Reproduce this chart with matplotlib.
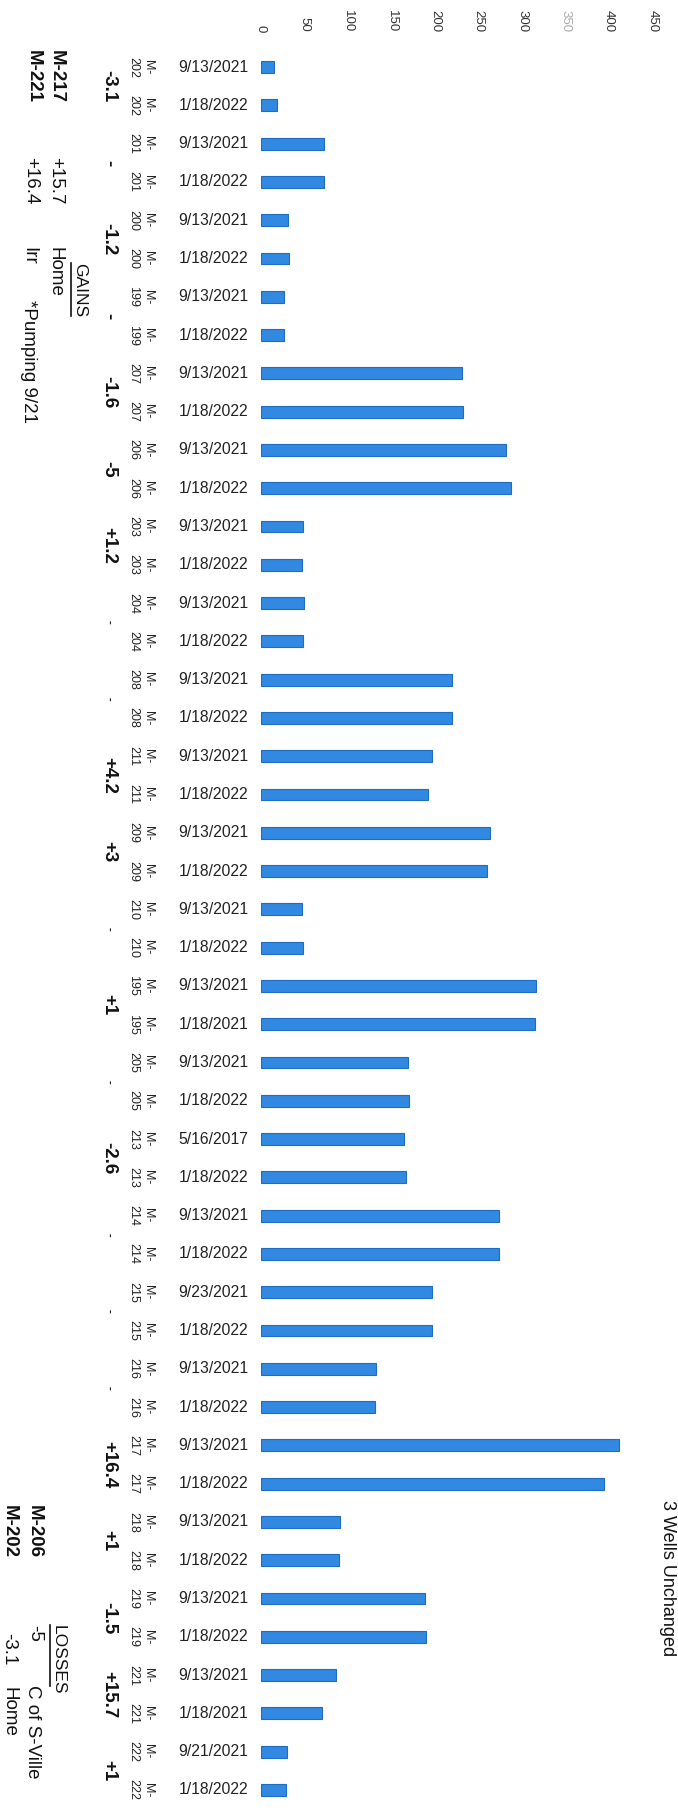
import matplotlib
matplotlib.use("Agg")
import matplotlib.pyplot as plt
from matplotlib.transforms import blended_transform_factory
from matplotlib.lines import Line2D

plt.rcParams['font.family'] = ['Liberation Sans', 'DejaVu Sans']

# ---------------- data ----------------
wells = ["202", "201", "200", "199", "207", "206", "203", "204", "208", "211",
         "209", "210", "195", "205", "213", "214", "215", "216", "217", "218",
         "219", "221", "222"]
first_dates = ["9/13/2021", "9/13/2021", "9/13/2021", "9/13/2021", "9/13/2021",
               "9/13/2021", "9/13/2021", "9/13/2021", "9/13/2021", "9/13/2021",
               "9/13/2021", "9/13/2021", "9/13/2021", "9/13/2021", "5/16/2017",
               "9/13/2021", "9/23/2021", "9/13/2021", "9/13/2021", "9/13/2021",
               "9/13/2021", "9/13/2021", "9/21/2021"]
second_dates = ["1/18/2022", "1/18/2022", "1/18/2022", "1/18/2022", "1/18/2022",
                "1/18/2022", "1/18/2022", "1/18/2022", "1/18/2022", "1/18/2022",
                "1/18/2022", "1/18/2022", "1/18/2021", "1/18/2022", "1/18/2022",
                "1/18/2022", "1/18/2022", "1/18/2022", "1/18/2022", "1/18/2022",
                "1/18/2022", "1/18/2021", "1/18/2022"]
first_values = [15.3, 72, 31, 27, 231, 282, 48, 49.5, 220, 196,
                263, 47.5, 316, 169, 164, 274, 196, 132, 411, 91,
                188, 86, 30]
second_values = [18.4, 72, 32, 27, 232.6, 287, 46.8, 48, 219, 191.8,
                 260, 48, 315, 170, 166.6, 274, 197, 131, 394.6, 90,
                 189.5, 70.3, 29]
changes = ["-3.1", "-", "-1.2", "-", "-1.6", "-5", "+1.2", "-", "-", "+4.2",
           "+3", "-", "+1", "-", "-2.6", "-", "-", "-", "+16.4", "+1",
           "-1.5", "+15.7", "+1"]
minor_change = [False, False, False, False, False, False, False, True, True, False,
                False, True, False, True, False, True, True, True, False, False,
                False, False, False]
ticks = [0, 50, 100, 150, 200, 250, 300, 350, 400, 450]

# interleave the two readings of each well
cat_wells, cat_dates, values = [], [], []
for w, d1, d2, v1, v2 in zip(wells, first_dates, second_dates, first_values, second_values):
    cat_wells += [w, w]
    cat_dates += [d1, d2]
    values += [v1, v2]
positions = list(range(len(values)))

# ---------------- figure ----------------
W, H = 678, 1818
fig = plt.figure(figsize=(W / 100, H / 100), dpi=100)
fig.patch.set_facecolor('white')

def fx(x):
    return x / W

def fy(y):
    return 1 - y / H

AX_LEFT = 261
AX_TOP = 47.9
AX_BOTTOM = 1809.1
AX_WIDTH = 391.5
ax = fig.add_axes([fx(AX_LEFT), fy(AX_BOTTOM), AX_WIDTH / W, (AX_BOTTOM - AX_TOP) / H])

ax.barh(positions, values, height=0.31, color='#3189e2', edgecolor='#1f6cc4', linewidth=0.8)
ax.set_xlim(0, 450)
ax.set_ylim(len(values) - 0.5, -0.5)
ax.set_xticks(ticks)
ax.set_xticklabels([str(t) for t in ticks])
ax.xaxis.tick_top()
ax.tick_params(axis='x', length=0, pad=11.5, labelrotation=-90, labelsize=9.5, labelcolor='#333333')
for lab in ax.get_xticklabels():
    if lab.get_text() == "350":
        lab.set_color('#aaaaaa')
ax.set_yticks([])
for sp in ax.spines.values():
    sp.set_visible(False)

# ---------------- category labels ----------------
trans = blended_transform_factory(fig.transFigure, ax.transData)
txt = '#222222'
for i, (w, d) in enumerate(zip(cat_wells, cat_dates)):
    ax.text(fx(AX_LEFT - 13), i, d, transform=trans, ha='right', va='center',
            fontsize=11.3, color=txt)
    ax.text(fx(AX_LEFT - 113), i, "M-", transform=trans, ha='center', va='center',
            fontsize=9, rotation=-90, color=txt)
    ax.text(fx(AX_LEFT - 128), i, w, transform=trans, ha='center', va='center',
            fontsize=9, rotation=-90, color=txt)

for k, (c, small) in enumerate(zip(changes, minor_change)):
    ax.text(fx(AX_LEFT - 152), 2 * k + 0.5, c, transform=trans, ha='center', va='center',
            fontsize=8 if small else 13.5, rotation=-90, color='#111111',
            fontweight='bold')

# ---------------- notes ----------------
def note(x, y, s, size=13.5, weight='normal', ha='center'):
    fig.text(fx(x), fy(y), s, rotation=-90, ha=ha, va='top', fontsize=size,
             fontweight=weight, color='#111111')

note(56, 50, "M-217", weight='bold')
note(33, 50, "M-221", weight='bold')
note(56, 157, "+15.7")
note(31, 157, "+16.4")
note(80, 263, "GAINS", size=12.5)
fig.add_artist(Line2D([fx(71), fx(71)], [fy(263), fy(316)], color='#111111', lw=1.2))
note(55, 247, "Home")
note(29, 247, "Irr")
note(28, 300, "*Pumping 9/21")

note(34, 1505, "M-206", weight='bold')
note(9, 1505, "M-202", weight='bold')
note(58, 1625, "LOSSES", size=12.5)
fig.add_artist(Line2D([fx(50), fx(50)], [fy(1625), fy(1686)], color='#111111', lw=1.2))
note(35, 1625, "-5")
note(32, 1685, "C of S-Ville")
note(9, 1633, "-3.1")
note(9, 1687, "Home")
note(676, 1500, "3 Wells Unchanged", size=13, ha='right')

fig.savefig("out.png", dpi=100, facecolor='white')
